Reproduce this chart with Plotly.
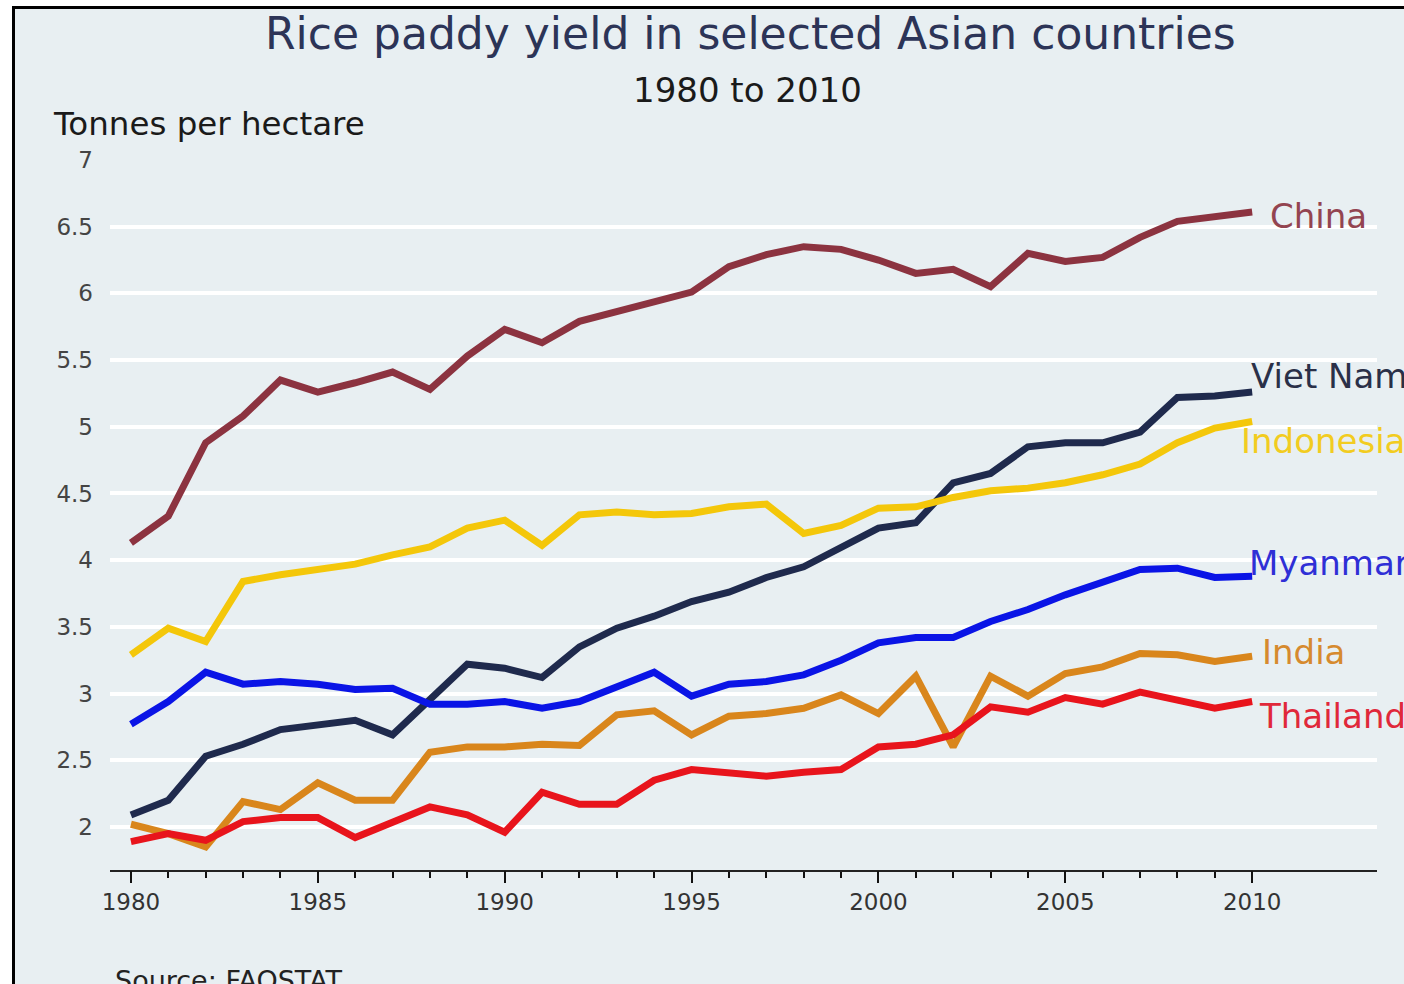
import plotly.graph_objects as go

years = list(range(1980, 2011))

china = [4.13, 4.33, 4.88, 5.08, 5.35, 5.26, 5.33, 5.41, 5.28, 5.53,
         5.73, 5.63, 5.79, 5.86, 5.94, 6.01, 6.20, 6.29, 6.35, 6.33,
         6.25, 6.15, 6.18, 6.05, 6.30, 6.24, 6.27, 6.42, 6.54, 6.58, 6.61]
viet_nam = [2.09, 2.20, 2.53, 2.62, 2.73, 2.77, 2.80, 2.69, 2.95, 3.22,
            3.19, 3.12, 3.35, 3.49, 3.58, 3.69, 3.76, 3.87, 3.95, 4.09,
            4.24, 4.28, 4.58, 4.65, 4.85, 4.88, 4.88, 4.96, 5.22, 5.23, 5.26]
indonesia = [3.29, 3.49, 3.39, 3.84, 3.89, 3.93, 3.97, 4.04, 4.10, 4.24,
             4.30, 4.11, 4.34, 4.36, 4.34, 4.35, 4.40, 4.42, 4.20, 4.26,
             4.39, 4.40, 4.47, 4.52, 4.54, 4.58, 4.64, 4.72, 4.88, 4.99, 5.04]
myanmar = [2.77, 2.94, 3.16, 3.07, 3.09, 3.07, 3.03, 3.04, 2.92, 2.92,
           2.94, 2.89, 2.94, 3.05, 3.16, 2.98, 3.07, 3.09, 3.14, 3.25,
           3.38, 3.42, 3.42, 3.54, 3.63, 3.74, 3.83, 3.93, 3.94, 3.87, 3.88]
india = [2.02, 1.95, 1.85, 2.19, 2.13, 2.33, 2.20, 2.20, 2.56, 2.60,
         2.60, 2.62, 2.61, 2.84, 2.87, 2.69, 2.83, 2.85, 2.89, 2.99,
         2.85, 3.13, 2.60, 3.13, 2.98, 3.15, 3.20, 3.30, 3.29, 3.24, 3.28]
thailand = [1.89, 1.95, 1.90, 2.04, 2.07, 2.07, 1.92, 2.04, 2.15, 2.09,
            1.96, 2.26, 2.17, 2.17, 2.35, 2.43, 2.41, 2.38, 2.41, 2.43,
            2.60, 2.62, 2.69, 2.90, 2.86, 2.97, 2.92, 3.01, 2.95, 2.89, 2.94]

countries = ["China", "Viet Nam", "Indonesia", "Myanmar", "India", "Thailand"]
series = [china, viet_nam, indonesia, myanmar, india, thailand]
line_colors = ["#8c3340", "#1f2a4d", "#f4c70a", "#0a14e6", "#d9861c", "#e8141c"]
label_colors = ["#934450", "#2a3048", "#f2cc20", "#2f2fd6", "#d68a2e", "#e0283a"]
# label anchor (year, value) just to the right of each line end
label_x = [2010.42, 2009.92, 2009.64, 2009.86, 2010.2, 2010.14]
label_y = [6.58, 5.38, 4.89, 3.98, 3.31, 2.83]

x_major = [1980, 1985, 1990, 1995, 2000, 2005, 2010]
x_tick_text = [str(y) if y in x_major else "" for y in years]
y_ticks = [2, 2.5, 3, 3.5, 4, 4.5, 5, 5.5, 6, 6.5, 7]
y_tick_text = ["2", "2.5", "3", "3.5", "4", "4.5", "5", "5.5", "6", "6.5", "7"]
grid_vals = [2, 2.5, 3, 3.5, 4, 4.5, 5, 5.5, 6, 6.5]

FONT = "DejaVu Sans"
PANEL = "#e8eff2"
X_RANGE = [1979.44, 2013.34]
Y_RANGE = [1.677, 7.0]

fig = go.Figure()
# empty trace that binds the overlay axes (gridlines and long year ticks)
fig.add_trace(go.Scatter(x=[1980], y=[None], xaxis="x2", yaxis="y2",
                         mode="lines", showlegend=False, hoverinfo="skip"))
for name, vals, col in zip(countries, series, line_colors):
    fig.add_trace(go.Scatter(x=years, y=vals, mode="lines", name=name,
                             line=dict(color=col, width=7), showlegend=False))

for name, xv, yv, col in zip(countries, label_x, label_y, label_colors):
    fig.add_annotation(x=xv, y=yv, xref="x", yref="y", text=name,
                       showarrow=False, xanchor="left", yanchor="middle",
                       font=dict(family=FONT, size=34, color=col))

W, H = 1404, 984
L, R, T, B = 110, 27, 160, 114
pw, ph = W - L - R, H - T - B


def px(x):
    return (x - L) / pw


def py(y):
    return (H - B - y) / ph


fig.add_annotation(x=px(750), y=py(33), xref="paper", yref="paper",
                   text="Rice paddy yield in selected Asian countries",
                   showarrow=False, xanchor="center", yanchor="middle",
                   font=dict(family=FONT, size=44, color="#2c3457"))
fig.add_annotation(x=px(747), y=py(90), xref="paper", yref="paper",
                   text="1980 to 2010", showarrow=False,
                   xanchor="center", yanchor="middle",
                   font=dict(family=FONT, size=34, color="#1a1a1a"))
fig.add_annotation(x=px(51), y=py(124), xref="paper", yref="paper",
                   text="Tonnes per hectare", showarrow=False,
                   xanchor="left", yanchor="middle",
                   font=dict(family=FONT, size=32.5, color="#1a1a1a"))
fig.add_annotation(x=px(113), y=py(980), xref="paper", yref="paper",
                   text="Source: FAOSTAT", showarrow=False,
                   xanchor="left", yanchor="middle",
                   font=dict(family=FONT, size=27, color="#222222"))

# framed background panel
fig.add_shape(type="rect", xref="paper", yref="paper",
              x0=px(13.5), x1=px(W + 20), y0=py(H + 20), y1=py(7.5),
              fillcolor=PANEL, line=dict(color="#000000", width=3),
              layer="below")

fig.update_layout(
    width=W, height=H,
    margin=dict(l=L, r=R, t=T, b=B, pad=0),
    paper_bgcolor="#ffffff",
    plot_bgcolor="rgba(0,0,0,0)",
    font=dict(family=FONT, color="#333333"),
    # yearly short ticks with labels every five years
    xaxis=dict(
        range=X_RANGE, tickmode="array", tickvals=years, ticktext=x_tick_text,
        ticks="outside", ticklen=6, tickwidth=2, tickcolor="#111111",
        showline=True, linecolor="#222222", linewidth=1.5,
        showgrid=False, zeroline=False,
        tickfont=dict(family=FONT, size=23, color="#333333"),
        ticklabelstandoff=5,
    ),
    # longer ticks at the labelled years
    xaxis2=dict(
        overlaying="x", matches="x", anchor="y2", side="bottom",
        tickmode="array", tickvals=x_major, showticklabels=False,
        ticks="outside", ticklen=12, tickwidth=2, tickcolor="#111111",
        showgrid=False, zeroline=False, showline=False,
    ),
    yaxis=dict(
        range=Y_RANGE, tickmode="array", tickvals=y_ticks,
        ticktext=y_tick_text, showgrid=False, zeroline=False,
        showline=False, ticks="",
        tickfont=dict(family=FONT, size=23, color="#444444"),
        ticklabelstandoff=16,
    ),
    yaxis2=dict(
        overlaying="y", matches="y", anchor="x2", side="left",
        tickmode="array", tickvals=grid_vals, showticklabels=False,
        showgrid=True, gridcolor="#ffffff", gridwidth=4,
        zeroline=False, showline=False, ticks="",
    ),
)

fig.write_html("out.html")
